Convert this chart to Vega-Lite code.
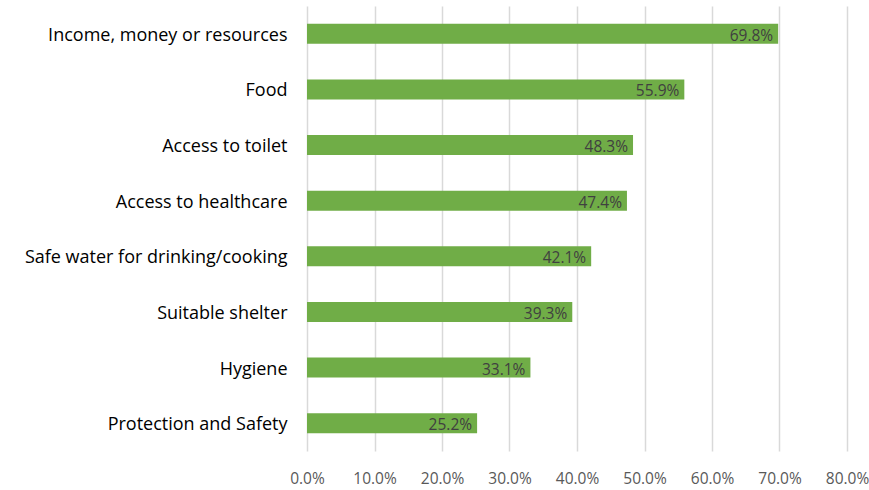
{
  "$schema": "https://vega.github.io/schema/vega-lite/v6.json",
  "width": 540,
  "height": 445,
  "autosize": "none",
  "padding": {"left": 307, "top": 6, "right": 22, "bottom": 39},
  "background": "white",
  "config": {"view": {"stroke": null}, "font": "Open Sans"},
  "data": {"values": [
    {"category": "Income, money or resources", "value": 0.698},
    {"category": "Food", "value": 0.559},
    {"category": "Access to toilet", "value": 0.483},
    {"category": "Access to healthcare", "value": 0.474},
    {"category": "Safe water for drinking/cooking", "value": 0.421},
    {"category": "Suitable shelter", "value": 0.393},
    {"category": "Hygiene", "value": 0.331},
    {"category": "Protection and Safety", "value": 0.252}
  ]},
  "encoding": {
    "y": {"field": "category", "type": "nominal", "sort": null, "title": null,
      "scale": {"paddingInner": 0.64, "paddingOuter": 0.32},
      "axis": {"domain": false, "ticks": false, "labelPadding": 20, "labelOffset": 2, "labelFontSize": 18, "labelColor": "#000000", "labelLimit": 320}},
    "x": {"field": "value", "type": "quantitative", "title": null,
      "scale": {"domain": [0, 0.8], "nice": false},
      "axis": {"values": [0,0.1,0.2,0.3,0.4,0.5,0.6,0.7,0.8], "format": ".1%", "domain": false, "ticks": false, "grid": true, "gridColor": "#d9d9d9", "gridWidth": 1.5, "labelFontSize": 15.5, "labelColor": "#595959", "labelPadding": 20, "labelFlush": false, "labelOverlap": false}}
  },
  "layer": [
    {"mark": {"type": "bar", "color": "#70AD47"}},
    {"mark": {"type": "text", "align": "right", "dx": -5, "dy": 2, "fontSize": 15.5, "color": "#404040"},
      "encoding": {"text": {"field": "value", "type": "quantitative", "format": ".1%"}}}
  ]
}
